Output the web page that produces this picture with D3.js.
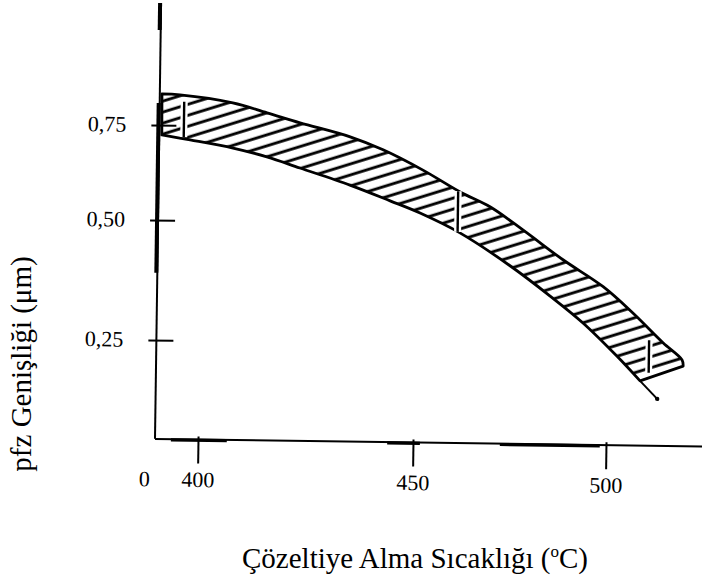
<!DOCTYPE html>
<html>
<head>
<meta charset="utf-8">
<script src="https://cdn.jsdelivr.net/npm/d3@7"></script>
<style>
  body { margin: 0; background: #fff; }
  svg { display: block; }
</style>
</head>
<body>
<svg id="chart" width="702" height="582"></svg>
<script>
// Axis ticks
const xTicks = [400, 450, 500];
const xTickLabels = ["400", "450", "500"];
const originLabel = "0";
const yTicks = [0.25, 0.50, 0.75];
const yTickLabels = ["0,25", "0,50", "0,75"];

// Axis extents (°C, µm)
const xExtent = [390, 525];
const yExtent = [0.044, 1.071];

// Upper edge of the PFZ width band
const upperT = [390.5, 394.7, 407.0, 415.0, 422.7, 434.4, 442.1, 451.6, 461.3, 469.1, 477.7, 488.2, 498.7, 506.5, 514.4, 519.4, 519.7];
const upperW = [0.832, 0.830, 0.811, 0.786, 0.761, 0.726, 0.693, 0.641, 0.585, 0.547, 0.490, 0.429, 0.374, 0.320, 0.259, 0.224, 0.211];

// Lower edge of the band
const lowerT = [390.6, 397.2, 407.2, 415.1, 422.8, 434.5, 443.9, 451.0, 461.4, 474.5, 485.0, 493.6, 502.5, 508.6];
const lowerW = [0.724, 0.712, 0.692, 0.670, 0.642, 0.599, 0.559, 0.528, 0.482, 0.415, 0.353, 0.298, 0.230, 0.179];

// Lower edge running on past the band
const tailT = [508.6, 513.1];
const tailW = [0.179, 0.142];

// Measured spread at three temperatures
const barT  = [395.7, 460.8, 510.8];
const barLo = [0.719, 0.484, 0.196];
const barHi = [0.812, 0.587, 0.264];

// Heavier inked stretches of the axes
const yHeavy = [[0.39, 0.808], [1.0, 1.071]];
const xHeavy = [[393.7, 406.7], [444.0, 451.8], [472.5, 498.4]];

const svg = d3.select("#chart");
const font = "'Liberation Serif', 'Times New Roman', serif";

// Scales (axes are slightly non-uniform)
const x = d3.scaleLinear().domain(xTicks).range([43, 258, 451]);
const y = d3.scaleLinear().domain(yTicks).range([-99, -219, -314]);

const plot = svg.append("g").attr("transform", "translate(155,439) rotate(0.8)");

// Hatch pattern
const defs = svg.append("defs");
defs.append("pattern")
  .attr("id", "hatch")
  .attr("patternUnits", "userSpaceOnUse")
  .attr("width", 40).attr("height", 10.5)
  .attr("patternTransform", "rotate(-18)")
  .append("line")
  .attr("x1", 0).attr("y1", 5).attr("x2", 40).attr("y2", 5)
  .attr("stroke", "#000").attr("stroke-width", 2.7);

// Axes
const yAxis = d3.axisLeft(y).tickValues(yTicks).tickFormat((d, i) => yTickLabels[i]);
const gy = plot.append("g").attr("transform", `translate(${x(xExtent[0])},0)`).call(yAxis);
gy.select(".domain").remove();
gy.selectAll(".tick line").attr("x1", -8).attr("x2", 17).attr("stroke", "#000").attr("stroke-width", 2);
gy.selectAll(".tick text")
  .attr("x", -33).attr("dy", "0.3em")
  .attr("font-family", font).attr("font-size", 22).attr("fill", "#000")
  .attr("text-anchor", "end");

const xAxis = d3.axisBottom(x).tickValues(xTicks).tickFormat((d, i) => xTickLabels[i]);
const gx = plot.append("g").attr("transform", `translate(0,${y(yExtent[0])})`).call(xAxis);
gx.select(".domain").remove();
gx.selectAll(".tick line").attr("y1", -3).attr("y2", 24).attr("stroke", "#000").attr("stroke-width", 2);
gx.selectAll(".tick text")
  .attr("y", 32).attr("dy", "0.71em")
  .attr("font-family", font).attr("font-size", 22).attr("fill", "#000");

// Origin label
plot.append("text")
  .attr("x", x(xExtent[0]) - 10).attr("y", y(yExtent[0]) + 32).attr("dy", "0.71em")
  .attr("text-anchor", "middle")
  .attr("font-family", font).attr("font-size", 22)
  .text(originLabel);

// Axis lines
plot.append("line")
  .attr("x1", x(xExtent[0])).attr("x2", x(xExtent[0]))
  .attr("y1", y(yExtent[0])).attr("y2", y(yExtent[1]))
  .attr("stroke", "#000").attr("stroke-width", 2);
plot.append("line")
  .attr("x1", x(xExtent[0])).attr("x2", x(xExtent[1]))
  .attr("y1", y(yExtent[0])).attr("y2", y(yExtent[0]))
  .attr("stroke", "#000").attr("stroke-width", 2);

plot.selectAll(".yheavy").data(yHeavy).join("line")
  .attr("x1", x(xExtent[0]) - 1).attr("x2", x(xExtent[0]) - 1)
  .attr("y1", d => y(d[0])).attr("y2", d => y(d[1]))
  .attr("stroke", "#000").attr("stroke-width", 4);
plot.selectAll(".xheavy").data(xHeavy).join("line")
  .attr("x1", d => x(d[0])).attr("x2", d => x(d[1]))
  .attr("y1", y(yExtent[0]) + 0.8).attr("y2", y(yExtent[0]) + 0.8)
  .attr("stroke", "#000").attr("stroke-width", 3.2);

// Band
const upperPts = upperT.map((t, i) => [x(t), y(upperW[i])]);
const lowerPts = lowerT.map((t, i) => [x(t), y(lowerW[i])]).reverse();
const curve = d3.line().curve(d3.curveCatmullRom.alpha(0.5));
const bandPath = curve(upperPts) + "L" + curve(lowerPts).slice(1) + "Z";

plot.append("path")
  .attr("d", bandPath)
  .attr("fill", "url(#hatch)")
  .attr("stroke", "#000").attr("stroke-width", 2.8)
  .attr("stroke-linejoin", "round");

// Tail of the lower edge
plot.append("path")
  .attr("d", d3.line()(tailT.map((t, i) => [x(t), y(tailW[i])])))
  .attr("stroke", "#000").attr("stroke-width", 2).attr("fill", "none");
plot.append("circle")
  .attr("cx", x(tailT[1])).attr("cy", y(tailW[1])).attr("r", 2.2).attr("fill", "#000");

// Spread bars
const bars = plot.selectAll(".bar").data(barT).join("g");
bars.append("line")
  .attr("x1", d => x(d)).attr("x2", d => x(d))
  .attr("y1", (d, i) => y(barLo[i])).attr("y2", (d, i) => y(barHi[i]))
  .attr("stroke", "#fff").attr("stroke-width", 7);
bars.append("line")
  .attr("x1", d => x(d)).attr("x2", d => x(d))
  .attr("y1", (d, i) => y(barLo[i])).attr("y2", (d, i) => y(barHi[i]))
  .attr("stroke", "#000").attr("stroke-width", 2.4);

// Axis titles
const xTitle = svg.append("text")
  .attr("x", 415).attr("y", 568)
  .attr("text-anchor", "middle")
  .attr("font-family", font).attr("font-size", 29);
xTitle.append("tspan").text("Çözeltiye Alma Sıcaklığı (");
xTitle.append("tspan").attr("font-size", 17).attr("dy", -11).text("o");
xTitle.append("tspan").attr("dy", 11).text("C)");

svg.append("text")
  .attr("transform", "translate(31,364) rotate(-90)")
  .attr("text-anchor", "middle")
  .attr("font-family", font).attr("font-size", 29)
  .text("pfz Genişliği (μm)");
</script>
</body>
</html>
